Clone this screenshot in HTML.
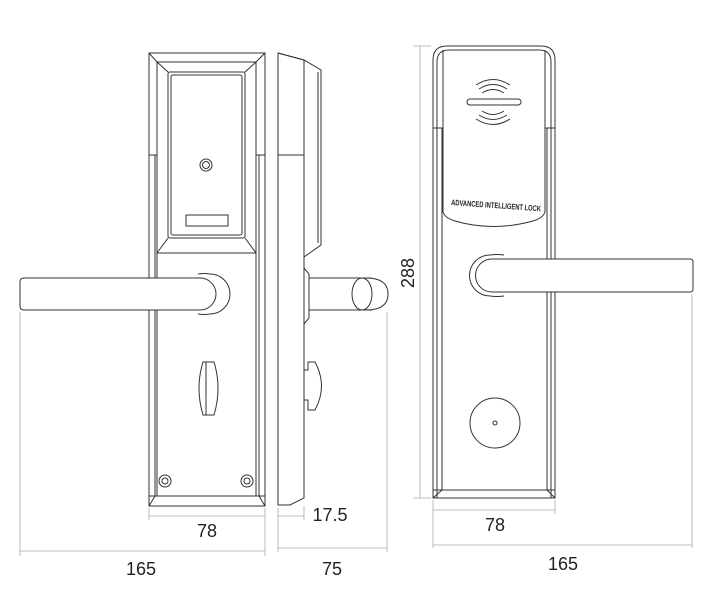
<!DOCTYPE html>
<html><head><style>
html,body{margin:0;padding:0;background:#fff;}
svg{display:block;}
text{font-family:"Liberation Sans",sans-serif;fill:#222;}
</style></head><body>
<svg width="710" height="600" viewBox="0 0 710 600" xmlns="http://www.w3.org/2000/svg">
<g fill="none" stroke="#333" stroke-width="1">
<!-- LEFT FRONT VIEW -->
<path d="M149 53 L265 53 L265 506 L149 506 Z"/>
<path d="M149 53 L157 62 L256 62 L265 53"/>
<path d="M157 62 L157 253 L256 253 L256 62"/>
<path d="M157 62 L168 72 M256 62 L245 72 M157 253 L168 238 M256 253 L245 238"/>
<rect x="168" y="72" width="77" height="166" rx="2"/>
<rect x="171" y="75" width="71" height="160" rx="2"/>
<line x1="149" y1="155" x2="157" y2="155"/><line x1="256" y1="155" x2="265" y2="155"/>
<line x1="155" y1="155" x2="155" y2="496"/><line x1="259" y1="155" x2="259" y2="496"/>
<path d="M149 496 L265 496 M155 496 L149 506 M259 496 L265 506"/>
<line x1="157" y1="253" x2="157" y2="496"/><line x1="256" y1="253" x2="256" y2="496"/>
<circle cx="206" cy="165" r="6"/><circle cx="206" cy="165" r="3.5"/>
<rect x="186" y="215" width="42" height="11"/>
<circle cx="165" cy="481" r="6"/><circle cx="165" cy="481" r="3"/>
<circle cx="247" cy="481" r="6"/><circle cx="247" cy="481" r="3"/>
<path d="M203 362 L214 362 Q222 388 214 415 L203 415 Q195 388 203 362 Z"/>
<line x1="206" y1="362" x2="206" y2="415"/>
<!-- left lever -->
<path d="M200 278 L24 278 Q20 278 20 282 L20 306 Q20 310 24 310 L200 310 A16 16 0 0 0 200 278 Z" fill="#fff"/>
<path d="M198 274 Q204 273 210 274 A20 20 0 0 1 210 314 Q204 315 198 314"/>
<!-- SIDE VIEW -->
<path d="M278 53 L278 505 L290 505 L304 498 L304 60 Z"/>
<path d="M278 53 L304 60 L321 70 L321 245 L304 257"/>
<line x1="318" y1="72" x2="318" y2="243"/>
<line x1="278" y1="155" x2="304" y2="155"/>
<path d="M304 268 L309 274 L309 318 L304 324"/>
<path d="M309 278 L372 278 M309 310 L372 310"/>
<ellipse cx="362" cy="294" rx="10" ry="16" fill="#fff"/>
<path d="M366 278 Q388 278 388 294 Q388 310 366 310"/>
<path d="M304 370 L308 370 L308 362 L315 362 Q328 386 315 410 L308 410 L308 400 L304 400"/>
<!-- RIGHT FRONT VIEW -->
<path d="M433 498 L433 60 Q433 46 447 46 L541 46 Q555 46 555 60 L555 498 Z"/>
<path d="M437 498 L437 62 Q437 50 449 50 L539 50 Q551 50 551 62 L551 498"/>
<path d="M443 50 L443 212 Q445 218 455 221 Q493 232 533 221 Q543 218 545 212 L545 50"/>
<line x1="433" y1="128" x2="443" y2="128"/><line x1="545" y1="128" x2="555" y2="128"/>
<line x1="442" y1="128" x2="442" y2="490"/><line x1="547" y1="128" x2="547" y2="490"/>
<path d="M433 490 L555 490 M442 490 L433 498 M547 490 L555 498"/>
<rect x="467" y="99" width="54" height="6" rx="3"/>
<path d="M482 93 Q493 86 504 93 M479 89 Q493 80 507 89 M476 85 Q493 74 510 85"/>
<path d="M482 111 Q493 118 504 111 M479 115 Q493 124 507 115 M476 119 Q493 130 510 119"/>
<circle cx="495" cy="423" r="25"/><circle cx="495" cy="423" r="2"/>
<path d="M492 259 L690 259 Q693 259 693 262 L693 289 Q693 292 690 292 L492 292 A16.5 16.5 0 0 1 492 259 Z" fill="#fff"/>
<path d="M504 255 Q497 254 490 255 A20.5 20.5 0 0 0 490 296 Q497 297 504 296"/>
</g>
<text x="0" y="0" font-size="8" font-weight="bold" transform="translate(451,205) rotate(4)" textLength="90" lengthAdjust="spacingAndGlyphs">ADVANCED INTELLIGENT LOCK</text>
<!-- DIMENSIONS -->
<g fill="none" stroke="#aaa" stroke-width="0.8">
<line x1="20" y1="312" x2="20" y2="556"/><line x1="265" y1="508" x2="265" y2="556"/>
<line x1="149" y1="508" x2="149" y2="520"/>
<line x1="149" y1="516" x2="265" y2="516"/><line x1="20" y1="551" x2="265" y2="551"/>
<line x1="278" y1="508" x2="278" y2="552"/><line x1="304" y1="506" x2="304" y2="520"/>
<line x1="387" y1="312" x2="387" y2="552"/>
<line x1="278" y1="516" x2="304" y2="516"/><line x1="278" y1="548" x2="387" y2="548"/>
<line x1="413" y1="46" x2="431" y2="46"/><line x1="413" y1="498" x2="431" y2="498"/>
<line x1="420" y1="46" x2="420" y2="498"/>
<line x1="433" y1="500" x2="433" y2="548"/><line x1="555" y1="500" x2="555" y2="514"/>
<line x1="692" y1="294" x2="692" y2="548"/>
<line x1="433" y1="510" x2="555" y2="510"/><line x1="433" y1="545" x2="692" y2="545"/>
</g>
<text x="207" y="537" font-size="18" text-anchor="middle">78</text>
<text x="141" y="575" font-size="18" text-anchor="middle">165</text>
<text x="330" y="521" font-size="18" text-anchor="middle">17.5</text>
<text x="332" y="575" font-size="18" text-anchor="middle">75</text>
<text x="495" y="531" font-size="18" text-anchor="middle">78</text>
<text x="563" y="570" font-size="18" text-anchor="middle">165</text>
<text font-size="18" text-anchor="middle" transform="translate(414,273) rotate(-90)">288</text>
</svg>
</body></html>
